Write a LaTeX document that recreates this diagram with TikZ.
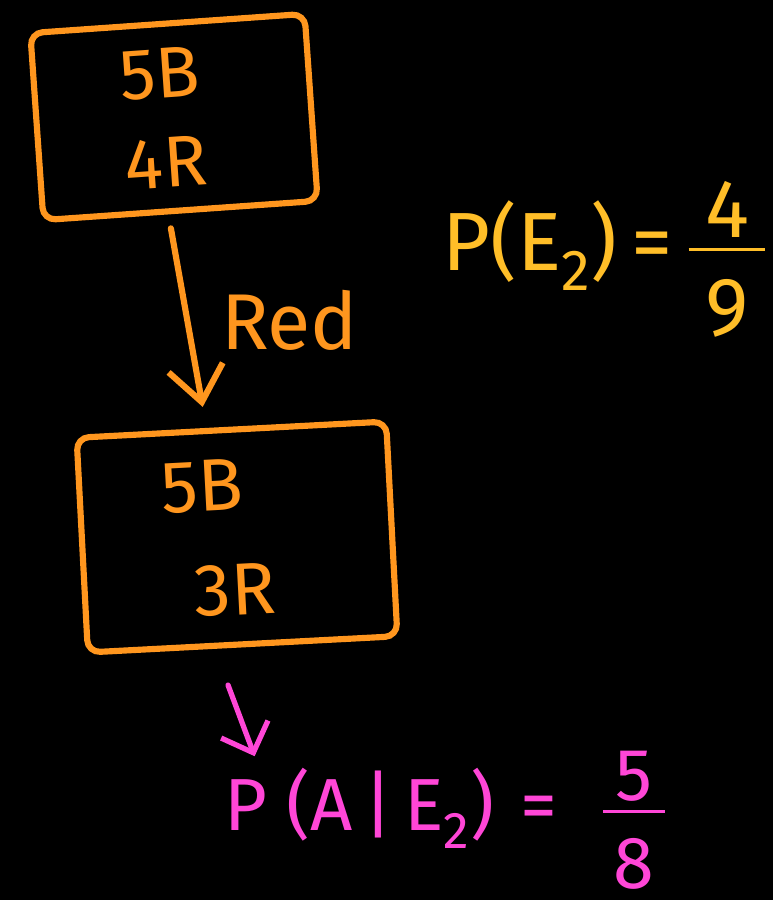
\documentclass[tikz,border=0pt]{standalone}
\usepackage{amsmath}
\usepackage{fontspec}
\usepackage{unicode-math}
\setmainfont{Fira Sans}
\usepackage{xcolor}
\usetikzlibrary{arrows.meta,positioning}
\definecolor{chalkorange}{HTML}{FF961E}
\definecolor{chalkyellow}{HTML}{FFBE28}
\definecolor{chalkpink}{HTML}{FF46D7}
\tikzset{
  urn/.style={
    draw=chalkorange,
    line width=3.5pt,
    rounded corners=7pt,
    align=center,
    text=chalkorange,
    minimum width=5.5cm,
    minimum height=3.75cm
  },
  formula/.style={
    inner sep=0pt,
    anchor=base,
    font=\fontsize{45}{54}\selectfont
  },
  flow/.style={-{Straight Barb[length=7mm, width=11mm]}, line width=3.5pt,
    draw=chalkorange, line cap=round},
  pinkflow/.style={-{Straight Barb[length=5mm, width=10mm]}, line width=3pt,
    draw=chalkpink, line cap=round}
}
\begin{document}
\begin{tikzpicture}[x=0.02cm, y=-0.02cm]
  \fill[black] (0,0) rectangle (773,900);
  \useasboundingbox (0,0) rectangle (773,900);

  \node[urn, rotate=4, font=\fontsize{41}{51}\selectfont] (first) at (174,117)
    {5B\hspace*{0.45cm}\\4R\hspace*{0.45cm}};
  \node[urn, rotate=3, minimum width=6.2cm, minimum height=4.3cm,
    font=\fontsize{42}{60}\selectfont] (second) at (237,537)
    {5B\hspace*{1.3cm}\\3R\hspace*{0.2cm}};

  \draw[flow, shorten <=3mm, shorten >=4mm] ([xshift=-2.5mm]first.south)
    -- node[midway, right=5mm, text=chalkorange,
      font=\fontsize{45}{54}\selectfont] (red) {Red}
    ([xshift=-5mm]second.north);

  \node[formula, text=chalkyellow, font=\fontsize{47}{56}\selectfont] (pe)
    at (605,270)
    {P(E\textsubscript{2})\,=\,$\frac{\mbox{\hspace{0.2em}4\hspace{0.2em}}}{\raisebox{-0.45em}{9}}$};

  \node[formula, text=chalkpink, font=\fontsize{42}{50}\selectfont] (pa)
    at (446,830) {P\hspace{0.25em}(A\hspace{0.15em}|\hspace{0.15em}E\textsubscript{2})%
    \hspace{0.35em}=\hspace{0.6em}$\frac{\mbox{\,5\,}}{\raisebox{-0.45em}{8}}$};
  \coordinate (pinktail) at (228,685);
  \draw[pinkflow] (pinktail) -- ([xshift=6mm, yshift=-1mm]pa.north west);
\end{tikzpicture}
\end{document}
